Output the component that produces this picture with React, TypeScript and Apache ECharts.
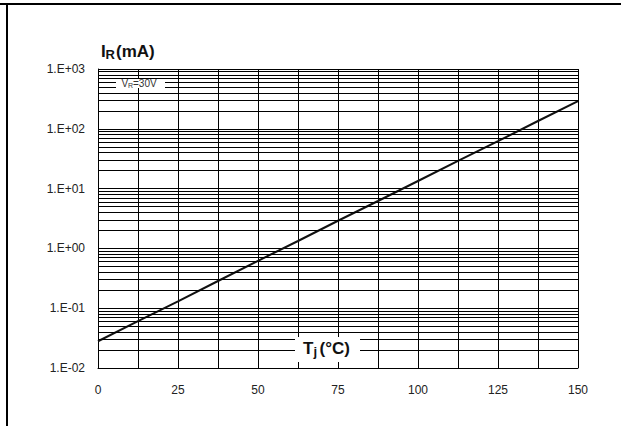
import React, { useEffect, useRef } from "react";
import * as echarts from "echarts";

// Junction temperature (°C)
const temperatures = [0, 12.5, 25, 37.5, 50, 62.5, 75, 87.5, 100, 112.5, 125, 137.5, 150];
// Reverse current I_R (mA) at V_R = 30V
const reverseCurrent = [0.028, 0.061, 0.13, 0.285, 0.62, 1.33, 2.9, 6.2, 13.4, 29, 62, 135, 290];
// Decades shown on the log axis
const decades = [0.01, 0.1, 1, 10, 100];
const minorMultipliers = [2, 3, 4, 5, 6, 7, 8, 9];
const xTickLabels = [0, 25, 50, 75, 100, 125, 150];

function fmtExp(v: number): string {
  const e = Math.round(Math.log10(v));
  const sign = e < 0 ? "-" : "+";
  const a = Math.abs(e);
  return "1.E" + sign + (a < 10 ? "0" + a : String(a));
}

export default function App() {
  const ref = useRef<HTMLDivElement>(null);
  useEffect(() => {
    document.body.style.margin = "0";
    const chart = echarts.init(ref.current!, null, { renderer: "svg" });
    const minorLines: any[] = [];
    decades.forEach((d) => minorMultipliers.forEach((m) => minorLines.push({ yAxis: +(d * m).toPrecision(3) })));
    const font = "'Liberation Sans', Arial, sans-serif";
    const option: any = {
      animation: false,
      backgroundColor: "#fff",
      grid: { left: 98, right: 43, top: 69, bottom: 58, containLabel: false },
      xAxis: {
        type: "value",
        min: 0,
        max: 150,
        interval: 12.5,
        axisLine: { lineStyle: { color: "#000", width: 1 } },
        axisTick: { show: false },
        axisLabel: {
          margin: 16,
          color: "#222",
          fontSize: 12,
          fontFamily: font,
          formatter: (v: number) => (xTickLabels.indexOf(v) >= 0 ? String(v) : ""),
        },
        splitLine: { show: true, lineStyle: { color: "#000", width: 1 } },
      },
      yAxis: {
        type: "log",
        logBase: 10,
        min: 0.01,
        max: 1000,
        splitNumber: 5,
        axisLine: { show: true, lineStyle: { color: "#000", width: 1 } },
        axisTick: { show: false },
        axisLabel: {
          margin: 13,
          color: "#222",
          fontSize: 12,
          fontFamily: font,
          padding: [3, 0, 0, 0],
          formatter: (v: number) => fmtExp(v),
        },
        splitLine: { show: true, lineStyle: { color: "#000", width: 1 } },
      },
      series: [
        {
          type: "line",
          data: [],
          z: 1,
          markLine: {
            silent: true,
            symbol: ["none", "none"],
            label: { show: false },
            lineStyle: { color: "#000", width: 1, type: "solid" },
            data: minorLines,
          },
        },
        {
          type: "line",
          z: 3,
          data: temperatures.map((t, i) => [t, reverseCurrent[i]]),
          showSymbol: false,
          symbol: "none",
          lineStyle: { color: "#111", width: 2 },
        },
      ],
      graphic: [
        { type: "rect", z: 100, shape: { x: 0, y: 3, width: 621, height: 2 }, style: { fill: "#000" } },
        { type: "rect", z: 100, shape: { x: 6, y: 3, width: 2, height: 423 }, style: { fill: "#000" } },
        // Y title
        { type: "text", z: 100, style: { x: 101, y: 51, text: "I", font: "bold 17px " + font, fill: "#111", verticalAlign: "middle" } },
        { type: "text", z: 100, style: { x: 105.5, y: 54, text: "R", font: "bold 13px " + font, fill: "#111", verticalAlign: "middle" } },
        { type: "text", z: 100, style: { x: 116, y: 51, text: "(mA)", font: "bold 17px " + font, fill: "#111", verticalAlign: "middle" } },
        // V_R label
        { type: "rect", z: 100, shape: { x: 116, y: 79, width: 49, height: 9 }, style: { fill: "#fff" } },
        { type: "text", z: 101, style: { x: 121.5, y: 83.5, text: "V", font: "10px " + font, fill: "#333", verticalAlign: "middle" } },
        { type: "text", z: 101, style: { x: 128, y: 85, text: "R", font: "7px " + font, fill: "#333", verticalAlign: "middle" } },
        { type: "text", z: 101, style: { x: 133, y: 83.5, text: "=30V", font: "10px " + font, fill: "#333", verticalAlign: "middle" } },
        // X title
        { type: "rect", z: 100, shape: { x: 295, y: 337, width: 65, height: 25 }, style: { fill: "#fff" } },
        { type: "text", z: 101, style: { x: 303, y: 348, text: "T", font: "bold 17px " + font, fill: "#111", verticalAlign: "middle" } },
        { type: "text", z: 101, style: { x: 313.5, y: 351, text: "j", font: "bold 13px " + font, fill: "#111", verticalAlign: "middle" } },
        { type: "text", z: 101, style: { x: 319.5, y: 348, text: "(°C)", font: "bold 17px " + font, fill: "#111", verticalAlign: "middle" } },
      ],
    };
    chart.setOption(option);
    return () => chart.dispose();
  }, []);
  return <div ref={ref} style={{ width: 621, height: 426 }} />;
}
